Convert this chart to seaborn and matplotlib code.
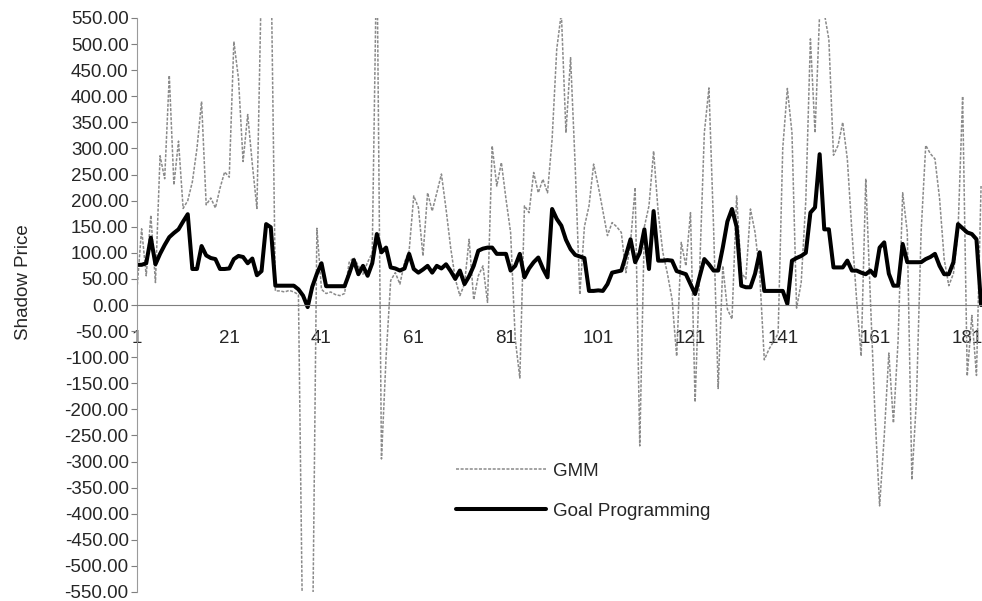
import numpy as np
import pandas as pd
import matplotlib
matplotlib.use("Agg")
import matplotlib.pyplot as plt
import seaborn as sns

# Observation index 1..184
periods = np.arange(1, 185)

gmm = [
    30, 146, 56, 172, 43, 286, 242, 440, 230, 314,
    185, 200, 236, 300, 390, 192, 205, 186, 224, 255,
    245, 505, 434, 275, 365, 270, 185, 640, 760, 700,
    27, 27, 25, 28, 25, 20, -700, -800, -700, 147,
    30, 22, 25, 20, 18, 22, 82, 91, 75, 59,
    82, 100, 700, -295, -100, 47, 62, 40, 82, 104,
    209, 187, 94, 215, 180, 215, 251, 184, 110, 50,
    18, 40, 126, 10, 56, 75, 5, 305, 228, 273,
    203, 139, -65, -140, 190, 177, 254, 215, 241, 215,
    318, 490, 560, 330, 474, 267, 20, 150, 190, 270,
    228, 180, 133, 158, 150, 139, 62, 120, 225, -270,
    150, 190, 295, 177, 101, 60, 11, -98, 120, 75,
    177, -186, 75, 330, 416, 150, -160, 75, -8, -27,
    209, 62, 50, 184, 139, 60, -105, -85, -70, -55,
    300, 415, 330, -6, 43, 200, 510, 330, 560, 560,
    509, 287, 306, 350, 280, 140, 12, -98, 242, 12,
    -210, -385, -252, -92, -226, -70, 215, 140, -335, -179,
    140, 306, 290, 280, 204, 88, 37, 60, 140, 400,
    -136, -20, -135, 228,
]

goal_programming = [
    77, 77, 80, 129, 78, 98, 115, 130, 138, 145,
    160, 174, 69, 69, 113, 95, 90, 88, 69, 69,
    70, 88, 94, 92, 80, 89, 57, 65, 155, 149,
    37, 37, 37, 37, 37, 30, 18, -4, 35, 60,
    80, 36, 36, 36, 36, 36, 60, 86, 59, 75,
    56, 80, 136, 101, 110, 72, 70, 66, 70, 98,
    69, 62, 68, 75, 62, 75, 70, 78, 65, 50,
    66, 40, 55, 75, 104, 108, 110, 110, 98, 98,
    98, 66, 75, 98, 53, 70, 82, 91, 70, 53,
    184, 165, 152, 125, 107, 96, 93, 90, 27, 27,
    28, 27, 40, 62, 64, 66, 95, 126, 82, 100,
    145, 69, 180, 85, 85, 86, 85, 65, 62, 59,
    40, 21, 55, 88, 78, 66, 66, 110, 160, 184,
    150, 37, 34, 34, 60, 101, 27, 27, 27, 27,
    27, 2, 85, 90, 94, 100, 177, 187, 289, 145,
    145, 72, 72, 72, 85, 66, 66, 62, 59, 66,
    56, 110, 120, 60, 37, 37, 117, 82, 82, 82,
    82, 88, 92, 98, 75, 59, 59, 82, 155, 147,
    139, 136, 126, 0,
]

y_ticks = np.arange(-550, 551, 50)
x_ticks = np.arange(1, 185, 20)

sns.set_style("white")
plt.rcParams["font.family"] = ["Liberation Sans", "DejaVu Sans"]

df = pd.DataFrame({
    "period": periods,
    "GMM": gmm,
    "Goal Programming": goal_programming,
})

fig = plt.figure(figsize=(9.82, 6.01), dpi=100)
ax = fig.add_axes([137 / 982, 1 - 592 / 601, 845 / 982, 574 / 601])

sns.lineplot(data=df, x="period", y="GMM", ax=ax, color="#8a8a8a",
             linewidth=1.1, linestyle=(0, (2, 1)), label="GMM")
sns.lineplot(data=df, x="period", y="Goal Programming", ax=ax, color="black",
             linewidth=2.9, label="Goal Programming")

ax.set_xlim(1, 184.2)
ax.set_ylim(-550, 550)
ax.set_yticks(y_ticks)
ax.set_yticklabels([f"{v:.2f}" for v in y_ticks])
ax.set_xticks(x_ticks)
ax.set_xticklabels([str(v) for v in x_ticks])

# category axis crosses at zero
ax.spines["bottom"].set_position(("data", 0))
ax.spines["bottom"].set_color("#7f7f7f")
ax.spines["bottom"].set_linewidth(0.8)
ax.spines["left"].set_color("#9a9a9a")
ax.spines["left"].set_linewidth(0.8)
for side in ("top", "right"):
    ax.spines[side].set_visible(False)

ax.tick_params(axis="y", left=True, length=4, width=0.8, color="#7f7f7f",
               pad=2, labelsize=13.5)
ax.tick_params(axis="x", length=0, pad=18, labelsize=13.5)

ax.set_xlabel("")
ax.set_ylabel("Shadow Price", fontsize=13.5)
ax.yaxis.set_label_coords(-0.124, 0.54)

ax.legend(loc="upper left", bbox_to_anchor=(439 / 982, 1 - 446 / 601),
          bbox_transform=fig.transFigure, frameon=False, fontsize=13.5,
          handlelength=4.8, handletextpad=0.37, labelspacing=1.2)

fig.savefig("out.png", dpi=100)
